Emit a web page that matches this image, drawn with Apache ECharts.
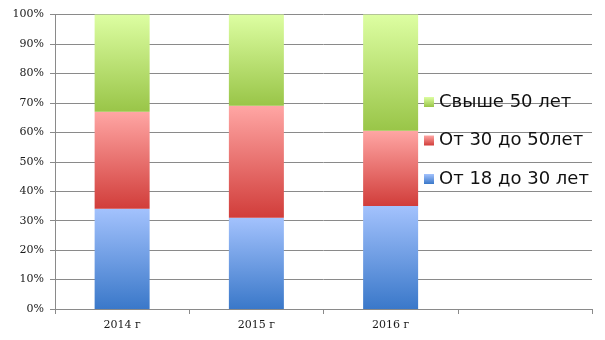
<!DOCTYPE html>
<html>
<head>
<meta charset="utf-8">
<script src="https://cdn.jsdelivr.net/npm/echarts@6/dist/echarts.min.js"></script>
<style>
  html, body { margin: 0; padding: 0; background: #fff; }
  #chart { width: 605px; height: 340px; }
</style>
</head>
<body>
<div id="chart"></div>
<script>
// Age structure by year, percent of total
const categories = ['2014 г', '2015 г', '2016 г', ''];
const age18to30 = [34, 31, 35];
const age30to50 = [33, 38, 25.5];
const age50plus = [33, 31, 39.5];
const yTicks = [0, 10, 20, 30, 40, 50, 60, 70, 80, 90, 100];

const seriesNames = ['От 18 до 30 лет', 'От 30 до 50лет', 'Свыше 50 лет'];

function vGrad(top, bottom) {
  return new echarts.graphic.LinearGradient(0, 0, 0, 1, [
    { offset: 0, color: top },
    { offset: 1, color: bottom }
  ]);
}

const labelFont = { fontFamily: 'DejaVu Serif', fontSize: 11, color: '#1a1a1a' };

const chart = echarts.init(document.getElementById('chart'), null, { renderer: 'canvas' });

chart.setOption({
  animation: false,
  backgroundColor: '#ffffff',
  grid: { left: 55, right: 13, top: 14.5, bottom: 31, containLabel: false },
  legend: {
    orient: 'vertical',
    left: 424,
    top: 91.5,
    padding: 0,
    itemWidth: 10,
    itemHeight: 10,
    itemGap: 17.5,
    icon: 'rect',
    data: [seriesNames[2], seriesNames[1], seriesNames[0]],
    textStyle: { fontFamily: 'DejaVu Sans', fontSize: 18, color: '#111', lineHeight: 21 }
  },
  xAxis: {
    type: 'category',
    data: categories,
    boundaryGap: true,
    axisLine: { show: true, lineStyle: { color: '#8a8a8a', width: 1 } },
    axisTick: { show: true, alignWithLabel: false, length: 5, lineStyle: { color: '#8a8a8a' } },
    axisLabel: Object.assign({ margin: 11 }, labelFont),
    splitLine: { show: false }
  },
  yAxis: {
    type: 'value',
    min: yTicks[0],
    max: yTicks[yTicks.length - 1],
    interval: 10,
    axisLine: { show: true, lineStyle: { color: '#8a8a8a', width: 1 } },
    axisTick: { show: true, length: 5, lineStyle: { color: '#8a8a8a' } },
    axisLabel: Object.assign({ margin: 11, formatter: '{value}%' }, labelFont),
    splitLine: { show: true, lineStyle: { color: '#8a8a8a', width: 1 } }
  },
  series: [
    {
      name: seriesNames[0], type: 'bar', stack: 'total', barWidth: 55,
      data: age18to30,
      itemStyle: { color: vGrad('#a3c2fd', '#3a78c9') }
    },
    {
      name: seriesNames[1], type: 'bar', stack: 'total', barWidth: 55,
      data: age30to50,
      itemStyle: { color: vGrad('#ffa6a4', '#d13d3a') }
    },
    {
      name: seriesNames[2], type: 'bar', stack: 'total', barWidth: 55,
      data: age50plus,
      itemStyle: { color: vGrad('#ddfea2', '#99c548') }
    }
  ]
});
</script>
</body>
</html>
